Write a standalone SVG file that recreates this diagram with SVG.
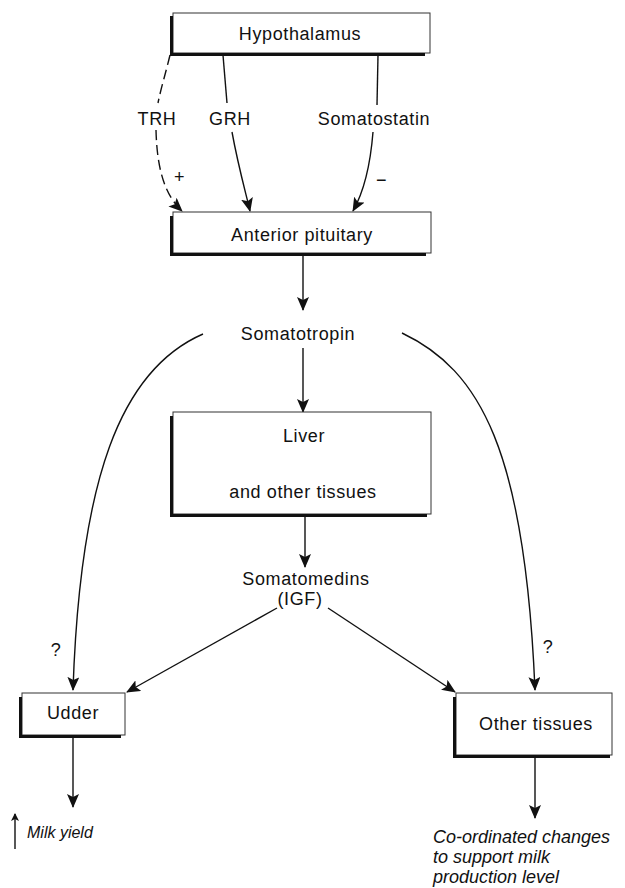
<svg xmlns="http://www.w3.org/2000/svg" width="625" height="888" viewBox="0 0 625 888">
<style>
  .box{fill:#fff;stroke:#333;stroke-width:1}
  .sh{fill:none;stroke:#111;stroke-width:3}
  .t{font-family:"Liberation Sans",Arial,sans-serif;font-size:18px;letter-spacing:0.6px;fill:#111}
  .c{text-anchor:middle}
  .i{font-style:italic;letter-spacing:0px}
  .ln{fill:none;stroke:#111;stroke-width:1.4}
  .a{marker-end:url(#ah)}
  .d{stroke-dasharray:10 5}
</style>
<defs>
  <marker id="ah" markerUnits="userSpaceOnUse" markerWidth="14" markerHeight="12" viewBox="0 0 14 12" refX="13" refY="6" orient="auto">
    <path d="M0,0 L14,6 L0,12 L3,6 z" fill="#111"/>
  </marker>
  <marker id="ahs" markerUnits="userSpaceOnUse" markerWidth="8" markerHeight="8" viewBox="0 0 8 8" refX="7" refY="4" orient="auto">
    <path d="M0,0 L8,4 L0,8 L2,4 z" fill="#111"/>
  </marker>
</defs>

<g id="connectors">
  <path class="ln d" d="M170,55 C166,72 161,88 158,103"/>
  <path class="ln d a" d="M156,130 C157,170 165,195 182,211"/>
  <path class="ln" d="M223,55 L227,103"/>
  <path class="ln a" d="M232,132 C238,165 245,190 250,211"/>
  <path class="ln" d="M378,55 L377,105"/>
  <path class="ln a" d="M373,132 C370,170 362,195 353,211"/>
  <path class="ln a" d="M303,255 L303,310"/>
  <path class="ln a" d="M303,348 L303,412"/>
  <path class="ln a" d="M305,517 L305,567"/>
  <path class="ln a" d="M203,334 C120,370 80,480 73,690"/>
  <path class="ln a" d="M402,333 C480,370 525,450 535,690"/>
  <path class="ln a" d="M277,608 L127,692"/>
  <path class="ln a" d="M328,608 L455,692"/>
  <path class="ln a" d="M73,738 L73,807"/>
  <path class="ln a" d="M535,758 L535,818"/>
  <text class="t" x="174" y="183">+</text>
  <text class="t" x="376" y="186">−</text>
  <text class="t c" x="56" y="656">?</text>
  <text class="t c" x="548" y="653">?</text>
</g>

<g id="hypothalamus">
  <rect class="box" x="173" y="13" width="257" height="40"/>
  <path class="sh" d="M171.5,16 L171.5,54.5 L425,54.5"/>
  <text class="t c" x="300" y="40">Hypothalamus</text>
</g>

<g id="trh"><text class="t c" x="157" y="125">TRH</text></g>
<g id="grh"><text class="t c" x="230" y="125">GRH</text></g>
<g id="somatostatin"><text class="t c" x="374" y="125">Somatostatin</text></g>

<g id="anterior-pituitary">
  <rect class="box" x="173" y="212" width="258" height="41"/>
  <path class="sh" d="M171.5,216 L171.5,254.5 L426,254.5"/>
  <text class="t c" x="302" y="241">Anterior pituitary</text>
</g>

<g id="somatotropin"><text class="t c" x="298" y="340">Somatotropin</text></g>

<g id="liver">
  <rect class="box" x="173" y="412" width="258" height="102"/>
  <path class="sh" d="M171.5,416 L171.5,515.5 L427,515.5"/>
  <text class="t c" x="304" y="442">Liver</text>
  <text class="t c" x="303" y="498">and other tissues</text>
</g>

<g id="somatomedins">
  <text class="t c" x="306" y="585">Somatomedins</text>
  <text class="t c" x="300" y="605">(IGF)</text>
</g>

<g id="udder">
  <rect class="box" x="22" y="693" width="103" height="42"/>
  <path class="sh" d="M20.5,697 L20.5,736.5 L121,736.5"/>
  <text class="t c" x="73" y="719">Udder</text>
</g>

<g id="other-tissues">
  <rect class="box" x="456" y="693" width="156" height="62"/>
  <path class="sh" d="M454.5,697 L454.5,756.5 L610,756.5"/>
  <text class="t c" x="536" y="730">Other tissues</text>
</g>

<g id="milk-yield">
  <path class="ln" d="M15,849 L15,814" style="marker-end:url(#ahs)"/>
  <text class="t i" x="27" y="838" style="font-size:16px">Milk yield</text>
</g>

<g id="coordinated">
  <text class="t i" x="433" y="843">Co-ordinated changes</text>
  <text class="t i" x="433" y="863">to support milk</text>
  <text class="t i" x="433" y="883">production level</text>
</g>
</svg>
